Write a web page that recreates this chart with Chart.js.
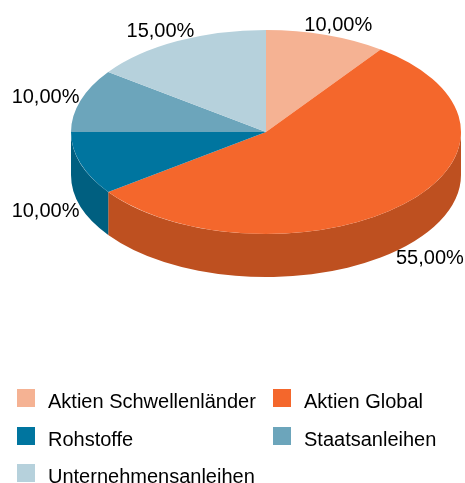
<!DOCTYPE html>
<html lang="de">
<head>
  <meta charset="UTF-8" />
  <title>Portfolio</title>
  <style>
    body, html { margin: 0; padding: 0; background: #fff; overflow: hidden; }
    canvas { display: block; }
  </style>
</head>
<body>
<canvas id="pie" width="465" height="483"></canvas>

<script src="https://cdn.jsdelivr.net/npm/chart.js"></script>
<script>
  const categories = ['Aktien Schwellenländer', 'Aktien Global', 'Rohstoffe', 'Staatsanleihen', 'Unternehmensanleihen'];
  const shares = [10, 55, 10, 10, 15];
  const colors = ['#f5b293', '#f4672c', '#00759f', '#6ca5bb', '#b6d1dc'];
  const sideColors = ['#c98f75', '#be5020', '#005f80', '#56849a', '#93a9b2'];

  // the pie is drawn flat by Chart.js, then squashed into an ellipse
  const centerY = 132;
  const radiusY = 102;
  const depth = 43;
  const font = '20px "Liberation Sans", Arial, sans-serif';

  // label offset from the slice's rim point
  const labelOffsets = [[12, -10], [26, 54], [-35, 48], [-35, -3], [-17, -10]];
  const legendCols = [17, 273];
  const legendRows = [389, 427, 464];

  const pie3d = {
    id: 'pie3d',
    beforeDatasetsDraw(chart) {
      const ctx = chart.ctx;
      const arcs = chart.getDatasetMeta(0).data;
      const cx = arcs[0].x;
      const rx = arcs[0].outerRadius;

      // only the front half of the wall is visible
      arcs.forEach((arc, i) => {
        const a0 = Math.max(arc.startAngle, 0);
        const a1 = Math.min(arc.endAngle, Math.PI);
        if (a1 <= a0) return;
        ctx.beginPath();
        ctx.ellipse(cx, centerY, rx, radiusY, 0, a0, a1);
        ctx.ellipse(cx, centerY + depth, rx, radiusY, 0, a1, a0, true);
        ctx.closePath();
        ctx.fillStyle = sideColors[i];
        ctx.fill();
      });

      ctx.save();
      ctx.translate(cx, centerY);
      ctx.scale(1, radiusY / rx);
      ctx.translate(-cx, -arcs[0].y);
    },
    afterDatasetsDraw(chart) {
      const ctx = chart.ctx;
      ctx.restore();

      const arcs = chart.getDatasetMeta(0).data;
      ctx.fillStyle = '#000';
      ctx.textBaseline = 'middle';
      ctx.textAlign = 'center';
      ctx.font = font;
      arcs.forEach((arc, i) => {
        const mid = (arc.startAngle + arc.endAngle) / 2;
        const x = arc.x + arc.outerRadius * Math.cos(mid) + labelOffsets[i][0];
        const y = centerY + radiusY * Math.sin(mid) + labelOffsets[i][1];
        ctx.fillText(shares[i].toFixed(2).replace('.', ',') + '%', x, y);
      });

      ctx.textAlign = 'left';
      ctx.textBaseline = 'alphabetic';
      categories.forEach((name, i) => {
        const x = legendCols[i % 2];
        const y = legendRows[Math.floor(i / 2)];
        ctx.fillStyle = colors[i];
        ctx.fillRect(x, y, 18, 18);
        ctx.fillStyle = '#000';
        ctx.fillText(name, x + 31, y + 19);
      });
    }
  };

  new Chart(document.getElementById('pie'), {
    type: 'pie',
    data: {
      labels: categories,
      datasets: [{
        data: shares,
        backgroundColor: colors,
        borderWidth: 0
      }]
    },
    options: {
      responsive: false,
      animation: false,
      events: [],
      layout: { padding: { left: 71, right: 4, top: 0, bottom: 93 } },
      plugins: {
        legend: { display: false },
        tooltip: { enabled: false }
      }
    },
    plugins: [pie3d]
  });
</script>
</body>
</html>
